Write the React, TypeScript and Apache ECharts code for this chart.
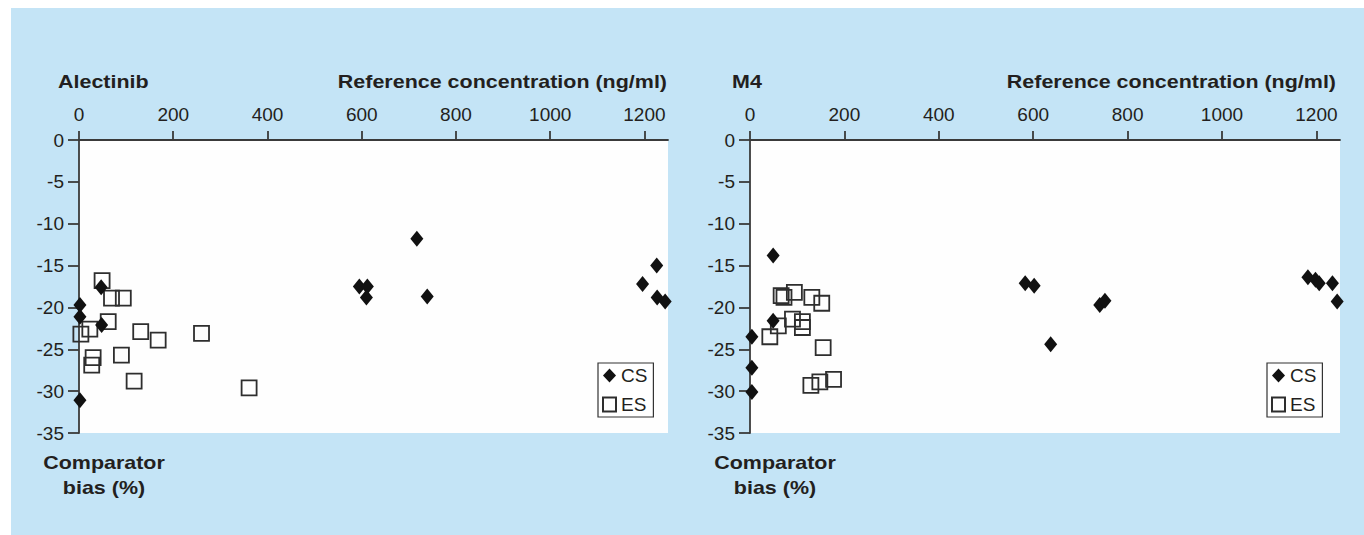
import React, { useEffect, useRef } from "react";
import * as echarts from "echarts";

// ---- data ----
const xTickValues = [0, 200, 400, 600, 800, 1000, 1200];
const yTickValues = [0, -5, -10, -15, -20, -25, -30, -35];

const alecCsX = [2, 2, 47, 48, 2, 595, 612, 610, 717, 739, 1196, 1226, 1227, 1244];
const alecCsY = [-19.7, -21.1, -17.6, -22.1, -31.1, -17.5, -17.5, -18.8, -11.8, -18.7, -17.2, -15.0, -18.8, -19.3];
const alecEsX = [49, 69, 94, 4, 23, 62, 30, 27, 90, 131, 168, 117, 260, 361];
const alecEsY = [-16.8, -18.9, -18.9, -23.2, -22.6, -21.7, -26.0, -26.9, -25.7, -22.9, -23.9, -28.8, -23.1, -29.6];

const m4CsX = [49, 49, 4, 4, 4, 583, 602, 637, 741, 752, 1182, 1198, 1206, 1234, 1244];
const m4CsY = [-13.8, -21.6, -23.5, -27.2, -30.1, -17.1, -17.4, -24.4, -19.7, -19.2, -16.4, -16.7, -17.1, -17.1, -19.3];
const m4EsX = [42, 60, 66, 72, 94, 90, 111, 111, 131, 152, 155, 129, 148, 177];
const m4EsY = [-23.5, -22.2, -18.6, -18.8, -18.2, -21.4, -21.7, -22.4, -18.8, -19.5, -24.8, -29.3, -28.9, -28.6];

const panelTitles = ["Alectinib", "M4"];
const xAxisTitle = "Reference concentration (ng/ml)";
const yAxisTitleLines = ["Comparator", "bias (%)"];
const seriesNames = ["CS", "ES"];

const FONT = '"Liberation Sans", Arial, Helvetica, sans-serif';
const TEXT = "#231f20";
const AXIS = "#3a3a3a";

const zip = (xs: number[], ys: number[]) => xs.map((x, i) => [x, ys[i]]);

export default function App() {
  const ref = useRef<HTMLDivElement>(null);
  useEffect(() => {
    if (!ref.current) return;
    const chart = echarts.init(ref.current, undefined, { renderer: "svg" });

    const grids = [
      { left: 79, top: 140, width: 589, height: 293 },
      { left: 750, top: 140, width: 590, height: 293 },
    ];

    const xAxis = grids.map((_, i) => ({
      type: "value",
      gridIndex: i,
      position: "top",
      min: 0,
      max: 1250,
      splitLine: { show: false },
      axisLine: { show: true, onZero: false, lineStyle: { color: AXIS, width: 1.8 } },
      axisTick: { show: true, length: 9, customValues: xTickValues, lineStyle: { color: AXIS, width: 1.8 } },
      axisLabel: {
        customValues: xTickValues,
        formatter: (v: number) => String(v),
        color: TEXT,
        fontFamily: FONT,
        fontSize: 19,
        margin: 16,
      },
    }));

    const yAxis = grids.map((_, i) => ({
      type: "value",
      gridIndex: i,
      min: -35,
      max: 0,
      interval: 5,
      splitLine: { show: false },
      axisLine: { show: true, onZero: false, lineStyle: { color: AXIS, width: 1.8 } },
      axisTick: { show: true, length: 11, customValues: yTickValues, lineStyle: { color: AXIS, width: 1.8 } },
      axisLabel: {
        customValues: yTickValues,
        formatter: (v: number) => String(v),
        color: TEXT,
        fontFamily: FONT,
        fontSize: 19,
        margin: 15,
      },
    }));

    const csStyle = { color: "#111111", opacity: 1 };
    const esStyle = { color: "rgba(255,255,255,0)", borderColor: "#2e2e2e", borderWidth: 1.8, opacity: 1 };

    const series = [
      { name: seriesNames[1], type: "scatter", xAxisIndex: 0, yAxisIndex: 0, symbol: "rect", symbolSize: 15, itemStyle: esStyle, data: zip(alecEsX, alecEsY), z: 2, silent: true },
      { name: seriesNames[0], type: "scatter", xAxisIndex: 0, yAxisIndex: 0, symbol: "diamond", symbolSize: [13, 16], itemStyle: csStyle, data: zip(alecCsX, alecCsY), z: 3, silent: true },
      { name: seriesNames[1], type: "scatter", xAxisIndex: 1, yAxisIndex: 1, symbol: "rect", symbolSize: 15, itemStyle: esStyle, data: zip(m4EsX, m4EsY), z: 2, silent: true },
      { name: seriesNames[0], type: "scatter", xAxisIndex: 1, yAxisIndex: 1, symbol: "diamond", symbolSize: [13, 16], itemStyle: csStyle, data: zip(m4CsX, m4CsY), z: 3, silent: true },
    ];

    const legendBase = {
      orient: "vertical",
      top: 363,
      padding: [3, 6, 3, 4],
      itemGap: 10,
      itemWidth: 13,
      itemHeight: 14,
      borderColor: "#333333",
      borderWidth: 1.2,
      backgroundColor: "#ffffff",
      selectedMode: false,
      textStyle: { color: TEXT, fontFamily: FONT, fontSize: 19, padding: [0, 0, 0, 0] },
      data: [
        { name: seriesNames[0], icon: "diamond" },
        { name: seriesNames[1], icon: "rect" },
      ],
    };

    const txt = (text: string, x: number, y: number, align: string) => ({
      type: "text",
      x,
      y,
      scaleX: 1.13,
      silent: true,
      style: {
        text,
        fill: TEXT,
        font: `bold 19px ${FONT}`,
        align,
        verticalAlign: "middle",
      },
    });

    const graphic = [
      txt(panelTitles[0], 58, 81, "left"),
      txt(xAxisTitle, 667, 81, "right"),
      txt(yAxisTitleLines[0], 104, 462, "center"),
      txt(yAxisTitleLines[1], 104, 487, "center"),
      txt(panelTitles[1], 732, 81, "left"),
      txt(xAxisTitle, 1336, 81, "right"),
      txt(yAxisTitleLines[0], 775, 462, "center"),
      txt(yAxisTitleLines[1], 775, 487, "center"),
    ];

    chart.setOption({
      animation: false,
      backgroundColor: "transparent",
      grid: grids.map((g) => ({ ...g, show: true, backgroundColor: "#fefefe", borderWidth: 0 })),
      xAxis,
      yAxis,
      series,
      legend: [
        { ...legendBase, left: 598 },
        { ...legendBase, left: 1267 },
      ],
      graphic,
    } as any);

    return () => chart.dispose();
  }, []);

  return (
    <div style={{ position: "absolute", left: 0, top: 0, width: 1364, height: 535, background: "#ffffff", overflow: "hidden" }}>
      <div style={{ position: "absolute", left: 11, top: 8, right: 0, bottom: 0, background: "#c4e4f6" }} />
      <div ref={ref} style={{ position: "absolute", left: 0, top: 0, width: 1364, height: 535 }} />
    </div>
  );
}
